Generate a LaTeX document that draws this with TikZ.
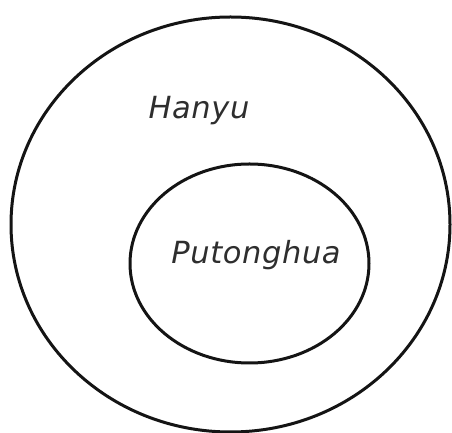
\documentclass[tikz,border=0pt]{standalone}
\usepackage{fontspec}
\setmainfont{DejaVu Sans}
\newfontfamily\lblfont[LetterSpace=2]{DejaVu Sans}
\usetikzlibrary{shapes.geometric}
\definecolor{ink}{HTML}{141414}
\definecolor{txt}{HTML}{2E2E2E}
\tikzset{
  ring/.style={ellipse, draw=ink, line width=3pt, inner sep=0pt},
  lbl/.style={font=\lblfont\fontsize{30.5}{34}\selectfont\itshape, text=txt, anchor=base, inner sep=0pt}
}
\begin{document}
\begin{tikzpicture}[x=1pt,y=1pt]
\useasboundingbox (0,0) rectangle (452,433);
\node[ring, minimum width=439pt, minimum height=415pt] (outer) at (230.5,208.5) {};
\node[ring, minimum width=239pt, minimum height=199pt] (inner) at (249.5,169.5) {};
\node[lbl] (hanyu) at (199,314) {Hanyu};
\node[lbl] (putonghua) at (256,169) {Putonghua};
\end{tikzpicture}
\end{document}
